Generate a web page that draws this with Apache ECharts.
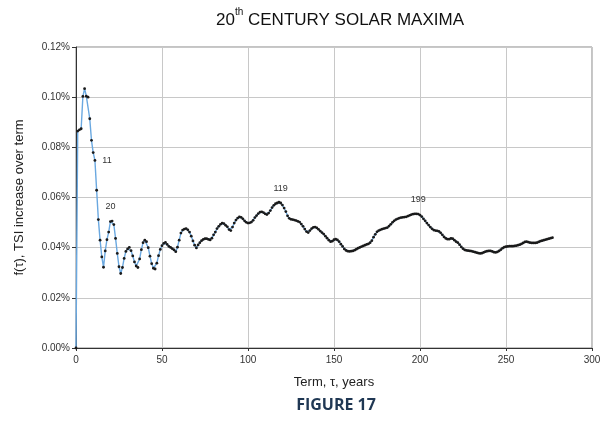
<!DOCTYPE html>
<html>
<head>
<meta charset="utf-8">
<script src="https://cdn.jsdelivr.net/npm/echarts@6/dist/echarts.min.js"></script>
<style>
  html, body { margin: 0; padding: 0; background: #fff; }
  #chart { width: 608px; height: 422px; }
</style>
</head>
<body>
<div id="chart"></div>
<script>
// Term tau (years) and mean TSI increase f(tau), in percent
const terms = [
  0,1,2,3,4,5,6,7,8,9,10,11,12,13,14,15,16,17,18,19,20,21,22,23,24,25,26,27,28,29,
  30,31,32,33,34,35,36,37,38,39,40,41,42,43,44,45,46,47,48,49,50,51,52,53,54,55,56,57,58,59,
  60,61,62,63,64,65,66,67,68,69,70,71,72,73,74,75,76,77,78,79,80,81,82,83,84,85,86,87,88,89,
  90,91,92,93,94,95,96,97,98,99,100,101,102,103,104,105,106,107,108,109,110,111,112,113,114,115,116,117,118,119,
  120,121,122,123,124,125,126,127,128,129,130,131,132,133,134,135,136,137,138,139,140,141,142,143,144,145,146,147,148,149,
  150,151,152,153,154,155,156,157,158,159,160,161,162,163,164,165,166,167,168,169,170,171,172,173,174,175,176,177,178,179,
  180,181,182,183,184,185,186,187,188,189,190,191,192,193,194,195,196,197,198,199,200,201,202,203,204,205,206,207,208,209,
  210,211,212,213,214,215,216,217,218,219,220,221,222,223,224,225,226,227,228,229,230,231,232,233,234,235,236,237,238,239,
  240,241,242,243,244,245,246,247,248,249,250,251,252,253,254,255,256,257,258,259,260,261,262,263,264,265,266,267,268,269,
  270,271,272,273,274,275,276,277
];

const tsiIncrease = [
  0.0000,0.0865,0.0870,0.0874,0.1003,0.1034,0.1004,0.1000,0.0914,0.0828,
  0.0779,0.0748,0.0629,0.0512,0.0430,0.0363,0.0322,0.0387,0.0432,0.0462,
  0.0504,0.0506,0.0492,0.0437,0.0377,0.0324,0.0297,0.0321,0.0357,0.0385,
  0.0395,0.0401,0.0388,0.0367,0.0343,0.0327,0.0321,0.0355,0.0392,0.0420,
  0.0430,0.0424,0.0400,0.0366,0.0336,0.0318,0.0315,0.0338,0.0368,0.0393,
  0.0408,0.0417,0.0421,0.0413,0.0405,0.0401,0.0396,0.0391,0.0384,0.0402,
  0.0430,0.0458,0.0470,0.0474,0.0476,0.0471,0.0462,0.0446,0.0427,0.0410,
  0.0399,0.0411,0.0420,0.0428,0.0433,0.0436,0.0436,0.0433,0.0431,0.0438,
  0.0451,0.0462,0.0476,0.0485,0.0493,0.0498,0.0496,0.0489,0.0483,0.0472,
  0.0468,0.0482,0.0498,0.0510,0.0518,0.0523,0.0521,0.0515,0.0507,0.0501,
  0.0498,0.0499,0.0502,0.0509,0.0520,0.0528,0.0536,0.0542,0.0543,0.0540,
  0.0535,0.0532,0.0538,0.0548,0.0560,0.0569,0.0575,0.0578,0.0581,0.0578,
  0.0570,0.0558,0.0544,0.0527,0.0517,0.0513,0.0512,0.0510,0.0508,0.0505,
  0.0502,0.0494,0.0485,0.0474,0.0464,0.0460,0.0468,0.0476,0.0481,0.0482,
  0.0479,0.0473,0.0466,0.0460,0.0454,0.0446,0.0438,0.0430,0.0424,0.0426,
  0.0432,0.0434,0.0431,0.0424,0.0414,0.0405,0.0395,0.0389,0.0386,0.0385,
  0.0386,0.0387,0.0390,0.0394,0.0398,0.0401,0.0404,0.0407,0.0410,0.0413,
  0.0415,0.0420,0.0428,0.0442,0.0453,0.0463,0.0468,0.0471,0.0474,0.0476,
  0.0478,0.0480,0.0486,0.0493,0.0501,0.0507,0.0512,0.0515,0.0518,0.0520,
  0.0521,0.0522,0.0523,0.0526,0.0529,0.0532,0.0534,0.0535,0.0535,0.0534,
  0.0530,0.0524,0.0515,0.0507,0.0498,0.0490,0.0482,0.0475,0.0470,0.0468,
  0.0467,0.0465,0.0459,0.0451,0.0443,0.0437,0.0434,0.0434,0.0437,0.0436,
  0.0430,0.0424,0.0420,0.0412,0.0403,0.0396,0.0391,0.0389,0.0388,0.0387,
  0.0386,0.0384,0.0382,0.0380,0.0378,0.0377,0.0378,0.0381,0.0384,0.0386,
  0.0387,0.0387,0.0385,0.0382,0.0381,0.0383,0.0387,0.0392,0.0398,0.0402,
  0.0404,0.0405,0.0406,0.0406,0.0406,0.0407,0.0408,0.0410,0.0412,0.0415,
  0.0419,0.0423,0.0424,0.0422,0.0420,0.0419,0.0419,0.0419,0.0420,0.0423,
  0.0426,0.0428,0.0430,0.0432,0.0434,0.0436,0.0438,0.0440
];

// Terms whose points carry a text label, and where the label sits
const labeledTerms = [11, 20, 119, 199];
const labelSides = ['right', 'top', 'top', 'top'];

const xTicks = [0, 50, 100, 150, 200, 250, 300];
const yTicks = [0, 0.02, 0.04, 0.06, 0.08, 0.10, 0.12];

const seriesData = terms.map((t, i) => {
  const k = labeledTerms.indexOf(t);
  if (k < 0) return [t, tsiIncrease[i]];
  return {
    value: [t, tsiIncrease[i]],
    label: {
      show: true,
      formatter: String(t),
      position: labelSides[k],
      distance: labelSides[k] === 'right' ? 6 : 9,
      fontSize: 9,
      color: '#333',
      fontFamily: 'Liberation Sans, Arial, sans-serif'
    }
  };
});

const chart = echarts.init(document.getElementById('chart'), null, { renderer: 'canvas' });
const font = 'Liberation Sans, Arial, Helvetica, sans-serif';

chart.setOption({
  backgroundColor: '#fff',
  animation: false,
  title: {
    text: '{a|20}{s|th}{a| CENTURY SOLAR MAXIMA}',
    left: 335,
    top: 2,
    textAlign: 'center',
    textStyle: {
      rich: {
        a: { fontSize: 17, fontWeight: 'normal', fontFamily: font, color: '#111', verticalAlign: 'bottom', lineHeight: 22 },
        s: { fontSize: 10, fontWeight: 'normal', fontFamily: font, color: '#111', verticalAlign: 'top', lineHeight: 22, padding: [0, 0, 10, 0] }
      }
    }
  },
  grid: { left: 76, right: 16, top: 47, bottom: 74, show: true, borderColor: '#888', borderWidth: 1 },
  xAxis: {
    type: 'value',
    min: xTicks[0],
    max: xTicks[xTicks.length - 1],
    interval: 50,
    name: 'Term, \u03c4, years',
    nameLocation: 'middle',
    nameGap: 28,
    nameTextStyle: { fontSize: 13, fontFamily: font, color: '#222' },
    axisLine: { show: true, lineStyle: { color: '#333', width: 1 } },
    axisTick: { show: true, length: 3, lineStyle: { color: '#333' } },
    axisLabel: { fontSize: 10, fontFamily: font, color: '#333', margin: 7 },
    splitLine: { show: true, lineStyle: { color: '#c8c8c8', width: 1 } }
  },
  yAxis: {
    type: 'value',
    min: yTicks[0],
    max: yTicks[yTicks.length - 1],
    interval: 0.02,
    name: 'f(\u03c4), TSI increase over term',
    nameLocation: 'middle',
    nameRotate: 90,
    nameGap: 50,
    nameTextStyle: { fontSize: 13, fontFamily: font, color: '#222' },
    axisLine: { show: true, lineStyle: { color: '#333', width: 1 } },
    axisTick: { show: true, length: 4, lineStyle: { color: '#333' } },
    axisLabel: {
      fontSize: 10, fontFamily: font, color: '#333', margin: 6,
      formatter: v => v.toFixed(2) + '%'
    },
    splitLine: { show: true, lineStyle: { color: '#c8c8c8', width: 1 } }
  },
  series: [{
    type: 'line',
    data: seriesData,
    showAllSymbol: true,
    symbol: 'circle',
    symbolSize: 2.8,
    itemStyle: { color: '#1a1a1a' },
    lineStyle: { color: '#6aa8e0', width: 1.4 },
    z: 3
  }],
  graphic: [{
    type: 'text',
    x: 336,
    y: 405,
    style: {
      text: 'FIGURE 17',
      textAlign: 'center',
      textVerticalAlign: 'middle',
      font: 'bold 16px "Open Sans", "Noto Sans", sans-serif',
      fill: '#1f3753'
    }
  }]
});
</script>
</body>
</html>
